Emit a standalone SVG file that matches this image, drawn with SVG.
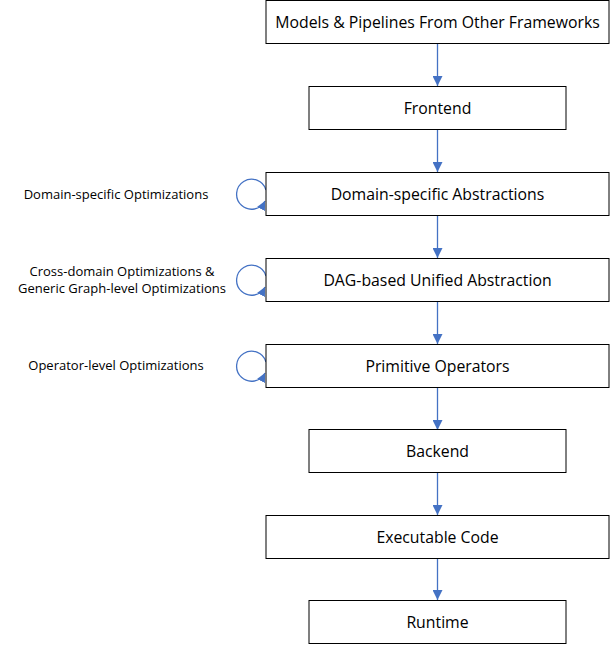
<svg xmlns="http://www.w3.org/2000/svg" width="615" height="646" viewBox="0 0 615 646">
<defs>
<style>
.box{fill:#fff;stroke:#000;stroke-width:1}
.t{font-family:"Open Sans","Liberation Sans",sans-serif;font-size:15.8px;fill:#000;text-anchor:middle;dominant-baseline:central}
.l{font-family:"Open Sans","Liberation Sans",sans-serif;font-size:13px;fill:#000;text-anchor:middle;dominant-baseline:central}
.c{fill:none;stroke:#4472C4;stroke-width:1.3}
</style>
<marker id="ah" viewBox="0 0 10 10" refX="10" refY="5" markerWidth="10" markerHeight="10" markerUnits="userSpaceOnUse" orient="auto">
<path d="M0,0 L10,5 L0,10 z" fill="#4472C4"/>
</marker>
<marker id="ah2" viewBox="0 0 10 10" refX="10" refY="5" markerWidth="9" markerHeight="9" markerUnits="userSpaceOnUse" orient="auto">
<path d="M0,0 L10,5 L0,10 z" fill="#4472C4"/>
</marker>
</defs>
<g id="connectors">
<line class="c" x1="437.5" y1="43" x2="437.5" y2="86" marker-end="url(#ah)"/>
<line class="c" x1="437.5" y1="130" x2="437.5" y2="172" marker-end="url(#ah)"/>
<line class="c" x1="437.5" y1="215" x2="437.5" y2="258" marker-end="url(#ah)"/>
<line class="c" x1="437.5" y1="301" x2="437.5" y2="344" marker-end="url(#ah)"/>
<line class="c" x1="437.5" y1="387" x2="437.5" y2="430" marker-end="url(#ah)"/>
<line class="c" x1="437.5" y1="472" x2="437.5" y2="515" marker-end="url(#ah)"/>
<line class="c" x1="437.5" y1="558" x2="437.5" y2="600" marker-end="url(#ah)"/>
<path class="c" d="M266 190 A15 15 0 1 0 265 201" marker-end="url(#ah2)"/>
<path class="c" d="M266 276 A15 15 0 1 0 265 287" marker-end="url(#ah2)"/>
<path class="c" d="M266 362 A15 15 0 1 0 265 373" marker-end="url(#ah2)"/>
</g>
<g id="n1"><rect class="box" x="266" y="0.5" width="343" height="43"/><text class="t" x="437.5" y="22">Models &amp; Pipelines From Other Frameworks</text></g>
<g id="n2"><rect class="box" x="309" y="86.5" width="257" height="43"/><text class="t" x="437.5" y="108">Frontend</text></g>
<g id="n3"><rect class="box" x="266" y="172.5" width="343" height="43"/><text class="t" x="437.5" y="194">Domain-specific Abstractions</text></g>
<g id="n4"><rect class="box" x="266" y="258.5" width="343" height="43"/><text class="t" x="437.5" y="280">DAG-based Unified Abstraction</text></g>
<g id="n5"><rect class="box" x="266" y="344.5" width="343" height="43"/><text class="t" x="437.5" y="366">Primitive Operators</text></g>
<g id="n6"><rect class="box" x="309" y="429.5" width="257" height="43"/><text class="t" x="437.5" y="451">Backend</text></g>
<g id="n7"><rect class="box" x="266" y="515.5" width="343" height="43"/><text class="t" x="437.5" y="537">Executable Code</text></g>
<g id="n8"><rect class="box" x="309" y="600.5" width="257" height="43"/><text class="t" x="437.5" y="622">Runtime</text></g>
<g id="labels">
<text class="l" x="116" y="194">Domain-specific Optimizations</text>
<text class="l" x="122" y="271">Cross-domain Optimizations &amp;</text>
<text class="l" x="122" y="288">Generic Graph-level Optimizations</text>
<text class="l" x="116" y="365">Operator-level Optimizations</text>
</g>
</svg>
